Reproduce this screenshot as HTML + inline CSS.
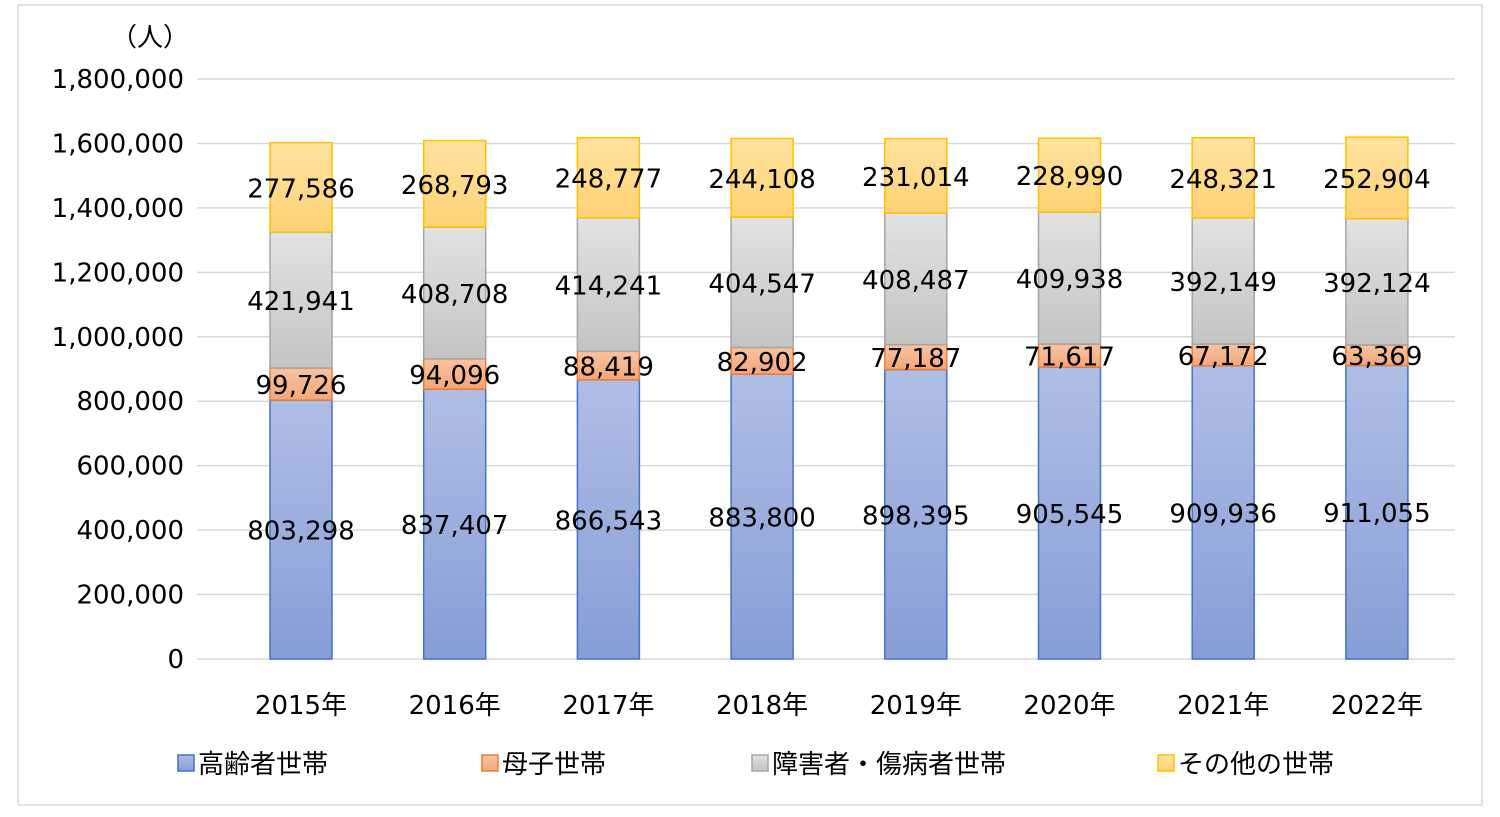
<!DOCTYPE html>
<html><head><meta charset="utf-8"><style>
body{margin:0;background:#fff;}
svg text{font-family:"DejaVu Sans","Noto Sans CJK JP",sans-serif;fill:#000;}
</style></head><body>
<svg width="1500" height="812" xmlns="http://www.w3.org/2000/svg">
<defs>
<linearGradient id="gb" x1="0" y1="0" x2="0" y2="1"><stop offset="0" stop-color="#b0bee6"/><stop offset="1" stop-color="#869dd6"/></linearGradient>
<linearGradient id="go" x1="0" y1="0" x2="0" y2="1"><stop offset="0" stop-color="#f8c3a0"/><stop offset="1" stop-color="#f3a77a"/></linearGradient>
<linearGradient id="gg" x1="0" y1="0" x2="0" y2="1"><stop offset="0" stop-color="#e2e2e2"/><stop offset="1" stop-color="#c4c4c4"/></linearGradient>
<linearGradient id="gy" x1="0" y1="0" x2="0" y2="1"><stop offset="0" stop-color="#ffe39f"/><stop offset="1" stop-color="#ffd275"/></linearGradient>
</defs>
<rect x="18" y="5" width="1464" height="800" fill="#fff" stroke="#d9d9d9" stroke-width="1.5"/>
<g id="grid"></g><g id="bars"></g><g id="labels"></g>
<text x="150" y="46" font-size="26" text-anchor="middle">（人）</text>
<g id="legend"></g>
</svg>
<script>
const categories=["2015年","2016年","2017年","2018年","2019年","2020年","2021年","2022年"];
const elderly=[803298,837407,866543,883800,898395,905545,909936,911055];
const mother=[99726,94096,88419,82902,77187,71617,67172,63369];
const disabled=[421941,408708,414241,404547,408487,409938,392149,392124];
const other=[277586,268793,248777,244108,231014,228990,248321,252904];
const ticks=[0,200000,400000,600000,800000,1000000,1200000,1400000,1600000,1800000];
const seriesNames=["高齢者世帯","母子世帯","障害者・傷病者世帯","その他の世帯"];
const NS="http://www.w3.org/2000/svg";
const y=v=>659-v*(580/1800000);
const x=i=>301+i*153.7;
const fills=["url(#gb)","url(#go)","url(#gg)","url(#gy)"];
const strokes=["#4472c4","#ed7d31","#a5a5a5","#ffc000"];
function mk(tag,attrs,parent){const e=document.createElementNS(NS,tag);for(const k in attrs)e.setAttribute(k,attrs[k]);parent.appendChild(e);return e;}
const grid=document.getElementById('grid');
ticks.forEach(t=>{
 const l=mk('line',{x1:197,x2:1455,y1:y(t),y2:y(t),stroke:'#d9d9d9','stroke-width':1.5},grid);
 
 
 const tx=mk('text',{x:184,y:y(t)+9,'font-size':26,'text-anchor':'end'},grid);
 tx.textContent=t.toLocaleString('en-US');
 
 
});
const bars=document.getElementById('bars'),labels=document.getElementById('labels');
const all=[elderly,mother,disabled,other];
categories.forEach((c,i)=>{
 let base=0;
 all.forEach((s,k)=>{
  const v=s[i];
  const r=mk('rect',{x:x(i)-31,y:y(base+v),width:62,height:y(base)-y(base+v),fill:fills[k],stroke:strokes[k],'stroke-width':1.5},bars);
  
  
  const t=mk('text',{x:x(i),y:(y(base)+y(base+v))/2+10,'font-size':26,'text-anchor':'middle'},labels);
  t.textContent=v.toLocaleString('en-US');
  
  
  base+=v;
 });
 const ct=mk('text',{x:x(i),y:714,'font-size':26,'text-anchor':'middle'},labels);
 ct.textContent=c;
 
 
});
const lg=document.getElementById('legend');
const lx=[178,482,752,1158];
seriesNames.forEach((n,k)=>{
 const r=mk('rect',{x:lx[k],y:755,width:16,height:16,fill:fills[k],stroke:strokes[k],'stroke-width':1.5},lg);
 
 
 const t=mk('text',{x:lx[k]+20,y:773,'font-size':26},lg);
 t.textContent=n;
 
 
});
</script>
</body></html>
